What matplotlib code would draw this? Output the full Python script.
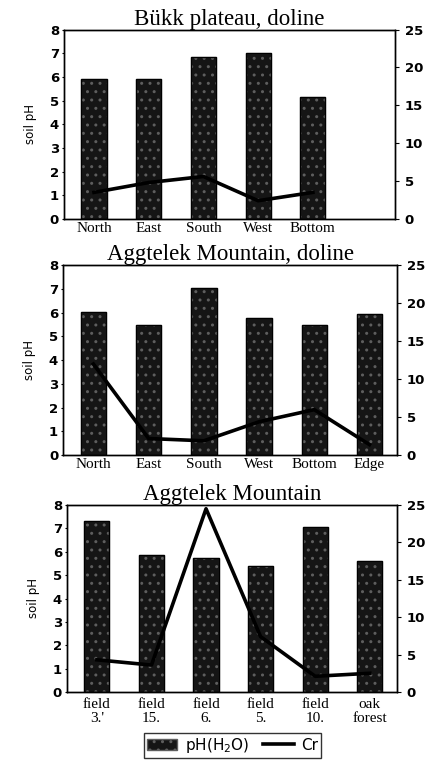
import numpy as np
import matplotlib
matplotlib.use("Agg")
import matplotlib.pyplot as plt
from matplotlib.patches import Patch
from matplotlib.lines import Line2D

# ------------------------------
# Data
# ------------------------------
titles = ["Bükk plateau, doline", "Aggtelek Mountain, doline", "Aggtelek Mountain"]

bukk_sites = ["North", "East", "South", "West", "Bottom"]
bukk_ph = [5.9, 5.9, 6.85, 7.0, 5.15]
bukk_cr = [3.5, 4.8, 5.6, 2.4, 3.5]

dol_sites = ["North", "East", "South", "West", "Bottom", "Edge"]
dol_ph = [6.05, 5.47, 7.05, 5.78, 5.47, 5.96]
dol_cr = [12.0, 2.2, 1.9, 4.4, 6.0, 1.4]

agg_sites = ["field\n3.'", "field\n15.", "field\n6.", "field\n5.", "field\n10.", "oak\nforest"]
agg_ph = [7.3, 5.85, 5.72, 5.4, 7.05, 5.6]
agg_cr = [4.3, 3.6, 24.5, 7.4, 2.1, 2.5]

panels = [
    (bukk_sites, bukk_ph, bukk_cr),
    (dol_sites, dol_ph, dol_cr),
    (agg_sites, agg_ph, agg_cr),
]

# axes rectangles in figure fraction (left, bottom, width, height)
rects = [
    (0.150, 0.712, 0.777, 0.249),
    (0.148, 0.401, 0.784, 0.250),
    (0.157, 0.0895, 0.775, 0.246),
]

serif = "Liberation Serif"
sans = "DejaVu Sans"

fig = plt.figure(figsize=(4.26, 7.6), dpi=100)

for i, ((sites, ph, cr), rect, title) in enumerate(zip(panels, rects, titles)):
    ax = fig.add_axes(rect)
    x = np.arange(len(sites))
    ax.bar(x, ph, width=0.46, color="#151515", edgecolor="#5e5e5e",
           hatch="..", linewidth=0.8, zorder=2)
    ax.bar(x, ph, width=0.46, facecolor="none", edgecolor="black",
           linewidth=1.0, zorder=3)
    ax.set_xlim(-0.55, 5.5)
    ax.set_ylim(0, 8)
    ax.set_yticks(range(0, 9))
    ax.set_xticks(x)
    ax.set_xticklabels(sites, fontfamily=serif, fontsize=11, linespacing=1.15)
    ax.tick_params(axis="x", length=0, pad=4 if i == 2 else 2)
    ax.tick_params(axis="y", length=1.5, pad=2, labelsize=9.5)
    for lab in ax.get_yticklabels():
        lab.set_fontweight("bold")
    ax.set_ylabel("soil pH", fontsize=8.5, family=sans, labelpad=9)
    ax.set_title(title, fontfamily=serif, fontsize=16.5, pad=1)

    ax2 = ax.twinx()
    ax2.plot(x, cr, color="black", lw=2.6, zorder=5)
    ax2.set_ylim(0, 25)
    ax2.set_yticks(range(0, 26, 5))
    ax2.tick_params(axis="y", length=3, pad=4, labelsize=9.5)
    for lab in ax2.get_yticklabels():
        lab.set_fontweight("bold")

    for a in (ax, ax2):
        for s in a.spines.values():
            s.set_linewidth(1.0)

handles = [
    Patch(facecolor="#151515", edgecolor="#5e5e5e", hatch="..", label="pH(H$_2$O)"),
    Line2D([0], [0], color="black", lw=2.6, label="Cr"),
]
fig.legend(handles=handles, loc="center", bbox_to_anchor=(0.546, 0.0195),
           ncol=2, frameon=True, fancybox=False, edgecolor="black",
           fontsize=11, handlelength=2.0, handleheight=0.7, columnspacing=0.9,
           borderpad=0.2, handletextpad=0.5)

fig.savefig("out.png", dpi=100)
